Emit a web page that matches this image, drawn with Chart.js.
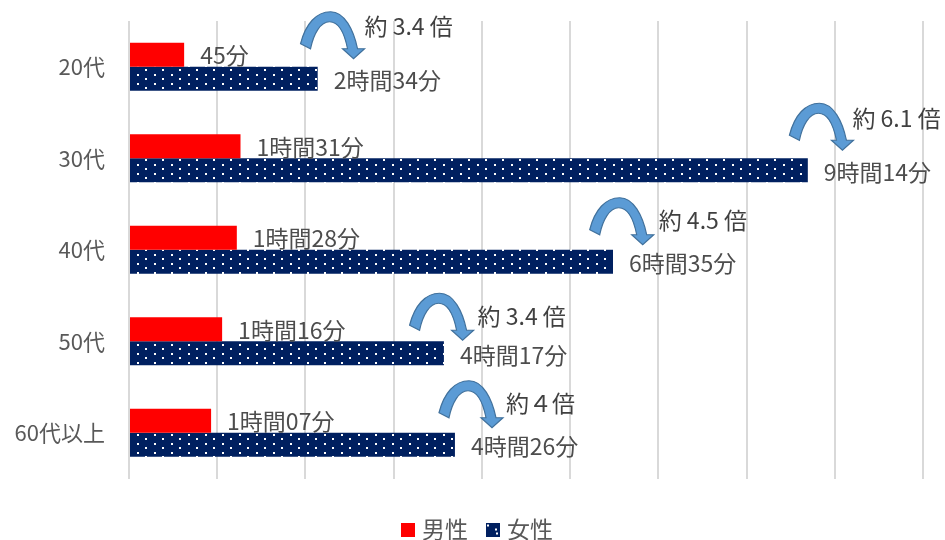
<!DOCTYPE html>
<html lang="ja"><head><meta charset="utf-8">
<style>html,body{margin:0;padding:0;background:#fff;overflow:hidden}#w{width:945px;height:540px;position:relative}</style>
<script src="https://cdn.jsdelivr.net/npm/chart.js@4"></script>
</head><body><div id="w"><canvas id="c" width="945" height="540"></canvas></div>
<script>
const categories = ['20代','30代','40代','50代','60代以上'];
const seriesNames = ['男性','女性'];
const maleMinutes = [45, 91, 88, 76, 67];
const femaleMinutes = [154, 554, 395, 257, 266];
const maleLabels = ['45分','1時間31分','1時間28分','1時間16分','1時間07分'];
const femaleLabels = ['2時間34分','9時間14分','6時間35分','4時間17分','4時間26分'];
const ratioLabels = ['約 3.4 倍','約 6.1 倍','約 4.5 倍','約 3.4 倍','約４倍'];
const arrowLeftMinutes = [140, 539, 376, 229, 253];
const arrowRise = [55, 55, 52, 48, 52];
const ratioGap = [64, 63, 69, 68, 67];
const ratioDrop = [15, 15, 23, 23, 23];
const axisStep = 72;
const axisMax = 648;

const FONT = '"Noto Sans CJK JP","Noto Sans",sans-serif';
const TEXT = '#595959';

function paintPattern(g, w, h){
  g.fillStyle = '#002060'; g.fillRect(0,0,w,h);
  g.fillStyle = '#ffffff';
  [[1,2],[9,6]].forEach(p=>g.fillRect(p[0],p[1],2,2));
}
function dotPattern(){
  const t = document.createElement('canvas'); t.width = 17; t.height = 9;
  const g = t.getContext('2d');
  paintPattern(g,17,9);
  return g.createPattern(t,'repeat');
}
const navy = dotPattern();

function legendSwatch(series){
  const t = document.createElement('canvas'); t.width = 14; t.height = 14;
  const g = t.getContext('2d');
  if(series===0){ g.fillStyle='#FF0000'; g.fillRect(0,0,14,14); }
  else { paintPattern(g,14,14); g.fillRect(10,10,2,2); }
  return t;
}
const swatches = [legendSwatch(0), legendSwatch(1)];

function arrowPath(ctx, x, y){
  ctx.beginPath();
  ctx.moveTo(x, y+32);
  ctx.bezierCurveTo(x+5, y+12, x+16, y, x+30, y);
  ctx.bezierCurveTo(x+44, y, x+53, y+18, x+57, y+37);
  ctx.lineTo(x+64, y+37);
  ctx.lineTo(x+53, y+47);
  ctx.lineTo(x+42, y+37);
  ctx.lineTo(x+47, y+37);
  ctx.bezierCurveTo(x+44, y+22, x+38, y+10, x+29, y+10);
  ctx.bezierCurveTo(x+20, y+10, x+13, y+22, x+10, y+37);
  ctx.closePath();
}

const callouts = {
  id:'callouts',
  afterLayout(chart){
    chart.legend.left += 17.75;
    chart.legend.right += 17.75;
  },
  afterDatasetsDraw(chart){
    const {ctx, scales:{x,y}} = chart;
    ctx.save();
    ctx.font = '23px '+FONT; ctx.textBaseline = 'middle'; ctx.textAlign='left';
    categories.forEach((c,i)=>{
      const cy = y.getPixelForValue(i);
      ctx.fillStyle = '#4d4d4d';
      ctx.fillText(maleLabels[i], x.getPixelForValue(maleMinutes[i])+16, cy-11);
      ctx.fillText(femaleLabels[i], x.getPixelForValue(femaleMinutes[i])+16, cy+14);
      const ax = x.getPixelForValue(arrowLeftMinutes[i]);
      const ay = cy - arrowRise[i];
      arrowPath(ctx, ax, ay);
      ctx.fillStyle = '#5B9BD5'; ctx.fill();
      ctx.strokeStyle = '#41719C'; ctx.lineWidth = 1.2; ctx.stroke();
      ctx.fillStyle = '#404040';
      ctx.fillText(ratioLabels[i], ax+ratioGap[i], ay+ratioDrop[i]);
    });
    ctx.restore();
  }
};

new Chart(document.getElementById('c'),{
  type:'bar',
  data:{labels:categories,datasets:[
    {label:seriesNames[0],data:maleMinutes,backgroundColor:'#FF0000',borderWidth:0},
    {label:seriesNames[1],data:femaleMinutes,backgroundColor:navy,borderWidth:0}
  ]},
  options:{
    indexAxis:'y',responsive:false,animation:false,
    devicePixelRatio:1,
    layout:{autoPadding:false,padding:{left:0,right:22,top:21,bottom:-11}},
    datasets:{bar:{barPercentage:1,categoryPercentage:0.526}},
    scales:{
      x:{min:0,max:axisMax,position:'bottom',
        ticks:{display:false,stepSize:axisStep},
        border:{display:false},
        afterFit(s){s.height=17;},
        grid:{color:'#D9D9D9',lineWidth:2,drawTicks:false}},
      y:{grid:{display:false,tickLength:24},border:{display:false},
        afterFit(s){s.width=129;},
        ticks:{color:TEXT,padding:0,font:{family:FONT,size:22}}}
    },
    plugins:{
      tooltip:{enabled:false},
      legend:{position:'bottom',
        labels:{color:TEXT,font:{family:FONT,size:23},usePointStyle:true,pointStyleWidth:5,boxHeight:14,padding:22.5,
          generateLabels(chart){
            return seriesNames.map((n,i)=>({text:n,pointStyle:swatches[i],fontColor:TEXT,datasetIndex:i,hidden:false,lineWidth:0,strokeStyle:'transparent',fillStyle:'transparent'}));
          }}}
    }
  },
  plugins:[callouts]
});
</script></body></html>
